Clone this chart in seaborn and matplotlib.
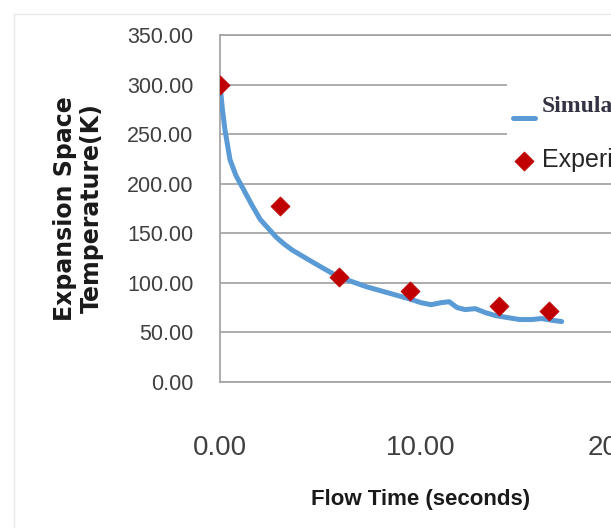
import matplotlib
matplotlib.use("Agg")
import matplotlib.pyplot as plt
from matplotlib.lines import Line2D
import seaborn as sns
import pandas as pd

# ---- data ----
sim_time = [0.0, 0.12, 0.25, 0.5, 0.8, 1.15, 1.6, 2.0, 2.4, 2.8, 3.2, 3.6, 4.1, 4.6,
            5.2, 5.9, 6.6, 7.3, 8.0, 8.7, 9.4, 10.0, 10.5, 11.0, 11.4, 11.8, 12.2,
            12.7, 13.2, 13.7, 14.3, 14.9, 15.5, 16.0, 16.6, 17.0]
sim_temp = [300, 275, 254, 224, 208, 195, 178, 164, 155, 146, 139, 133, 127, 121,
            114, 106, 101, 96, 92, 88, 84, 80, 78, 80, 81, 75, 73,
            74, 70, 67, 65, 63, 63, 64, 62, 61]
exp_time = [0.0, 2.97, 5.94, 9.44, 13.86, 16.37]
exp_temp = [300, 178, 106, 92, 77, 72]
y_ticks = [0, 50, 100, 150, 200, 250, 300, 350]
x_ticks = [0, 10, 20]
x_label = "Flow Time (seconds)"
y_label = "Expansion Space\nTemperature(K)"
series_names = ["Simulation", "Experiment"]

sim_df = pd.DataFrame({"time": sim_time, "temp": sim_temp})
exp_df = pd.DataFrame({"time": exp_time, "temp": exp_temp})

sns.set_style("white")
plt.rcParams["font.family"] = ["Liberation Sans", "DejaVu Sans"]

W, H = 611, 528
fig = plt.figure(figsize=(W / 100, H / 100), dpi=100)
ax = fig.add_axes([220 / W, 1 - 382 / H, 402 / W, 347 / H])

sns.lineplot(data=sim_df, x="time", y="temp", ax=ax, color="#5b9bd5", lw=3.6,
             sort=False, estimator=None, label=series_names[0] + "\n", zorder=3)
sns.scatterplot(data=exp_df, x="time", y="temp", ax=ax, marker="D", s=95,
                color="#c00000", edgecolor="#c00000", linewidth=0.5,
                label=series_names[1], zorder=4)

ax.set_xlim(0, 20)
ax.set_ylim(0, 350)
ax.set_yticks(y_ticks)
ax.set_yticklabels([f"{v:.2f}" for v in y_ticks])
ax.set_xticks(x_ticks)
ax.set_xticklabels([f"{v:.2f}" for v in x_ticks])

grid_c = "#a6a6a6"
ax.yaxis.grid(True, color=grid_c, lw=1.3)
ax.xaxis.grid(False)
for s in ["left", "bottom", "top"]:
    ax.spines[s].set_visible(True)
    ax.spines[s].set_color(grid_c)
    ax.spines[s].set_linewidth(1.3)
ax.spines["right"].set_visible(False)

ax.tick_params(axis="y", length=0, pad=19, labelsize=15.5, labelcolor="#404040")
ax.tick_params(axis="x", length=0, pad=38, labelsize=20, labelcolor="#404040")

ax.set_xlabel(x_label, fontsize=16, fontweight="bold", family=["Liberation Sans"],
              color="#1a1a1a", labelpad=20)
ax.set_ylabel(y_label, fontsize=17, fontweight="bold", family=["DejaVu Sans"],
              color="#1a1a1a", linespacing=1.15)
ax.yaxis.set_label_coords(-0.29, 0.5)

leg = ax.legend(loc="upper left", bbox_to_anchor=(507 / W, 1 - 78 / H),
                bbox_transform=fig.transFigure, borderaxespad=0, borderpad=0.25,
                frameon=True, framealpha=1, fancybox=False, handlelength=0.85,
                handletextpad=0.3, labelspacing=0.3, title=" ", title_fontsize=2,
                prop={"family": ["Liberation Sans"], "size": 18})
leg.get_frame().set_facecolor("white")
leg.get_frame().set_edgecolor("none")
t0 = leg.get_texts()[0]
t0.set_fontfamily(["Liberation Serif"])
t0.set_fontweight("bold")
t0.set_fontsize(17)
t0.set_color("#333344")
leg.get_texts()[1].set_color("#262626")

# faint chart border (Excel style)
fig.add_artist(Line2D([14 / W, 14 / W], [0, 1 - 14 / H], color="#e8e8e8", lw=1,
                      transform=fig.transFigure))
fig.add_artist(Line2D([14 / W, 1], [1 - 14 / H, 1 - 14 / H], color="#e8e8e8", lw=1,
                      transform=fig.transFigure))

fig.savefig("out.png", dpi=100)
